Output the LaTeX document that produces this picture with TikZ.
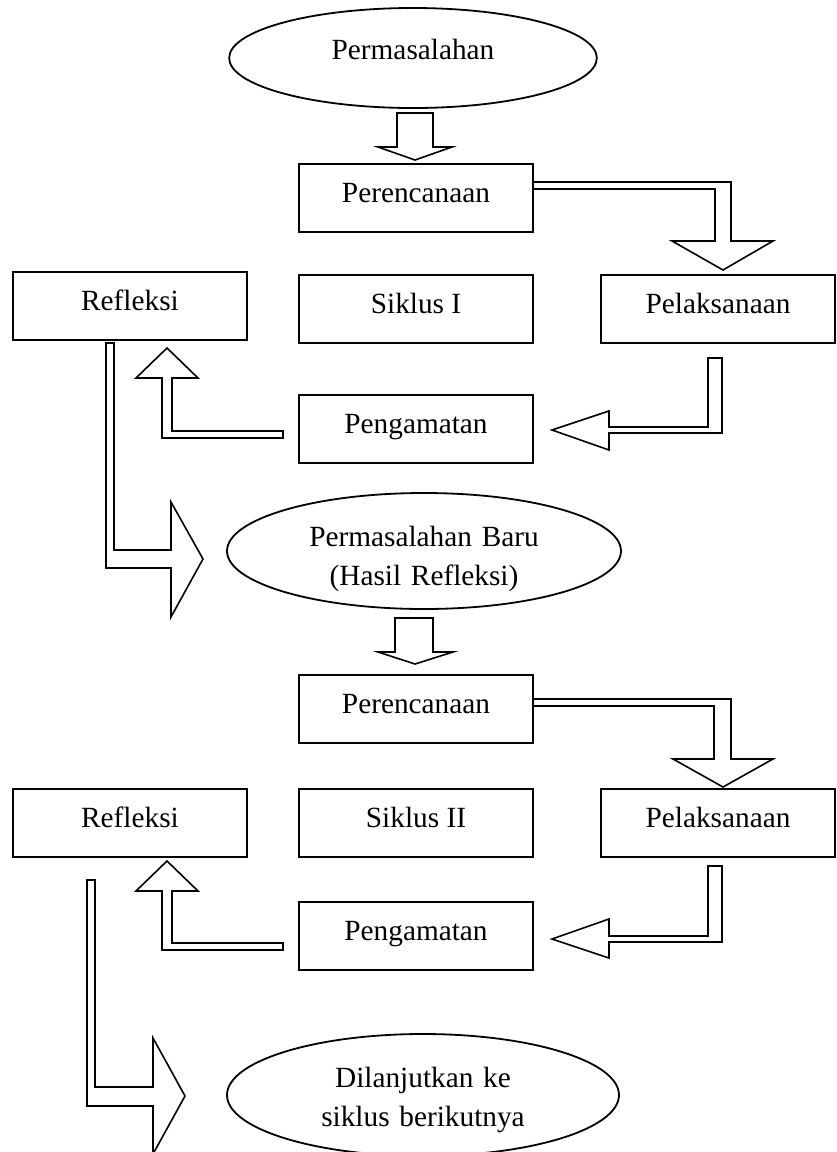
\documentclass[tikz,border=0pt]{standalone}
\usepackage{fontspec}
\setmainfont{Liberation Serif}
\usetikzlibrary{calc, positioning, shapes.geometric}

\begin{document}
\begin{tikzpicture}[
                x = 1pt, y = -1pt, % y runs downwards
                line width = 1.8pt,
                line join = miter,
                font = \fontsize{29.3pt}{39.5pt}\selectfont
                ]
                \tikzstyle{box}=[
                    draw, rectangle,
                    inner sep = 0pt, outer sep = 0pt,
                    minimum width = 234pt,
                    text height = 38.5pt, text depth = 29.5pt
                ]
                \tikzstyle{oval}=[
                    draw, ellipse,
                    inner sep = 0pt, outer sep = 0pt,
                    text width = 260pt, align = center
                ]
                \tikzstyle{blockarrow}=[draw, line width = 1.6pt]
                \useasboundingbox (0,0) rectangle (836,1152);

                % siklus I
                \node[oval, minimum width = 308pt, minimum height = 100pt,
                      text height = 20pt, text depth = 17pt] (mas1) at (413,58) {Permasalahan};
                \node[box] (ren1) [below=56pt of mas1, xshift=3pt] {Perencanaan};
                \node[box] (sik1) [below=43pt of ren1] {Siklus I};
                \node[box] (lak1) [right=68pt of sik1] {Pelaksanaan};
                \node[box] (ref1) [left=52pt of sik1, yshift=3pt] {Refleksi};
                \node[box] (amt1) [below=52pt of sik1] {Pengamatan};

                % siklus II
                \node[oval, minimum width = 394pt, minimum height = 116pt,
                      text height = 25pt, text depth = 35pt]
                      (mas2) [below=30pt of amt1, xshift=8pt] {Permasalahan Baru\\(Hasil Refleksi)};
                \node[box] (ren2) [below=66pt of mas2, xshift=-8pt] {Perencanaan};
                \node[box] (sik2) [below=46pt of ren2] {Siklus II};
                \node[box] (lak2) [right=68pt of sik2] {Pelaksanaan};
                \node[box] (ref2) [left=52pt of sik2] {Refleksi};
                \node[box] (amt2) [below=45pt of sik2] {Pengamatan};
                \node[oval, minimum width = 392pt, minimum height = 122pt,
                      text height = 22pt, text depth = 38pt]
                      (lanjut) [below=64pt of amt2, xshift=7pt] {Dilanjutkan ke\\siklus berikutnya};

                % block arrows, siklus I
                \draw[blockarrow] ($(mas1.south)+(-16,5)$) -- ++(36,0) -- ++(0,34)
                    -- ++(19,0) -- ++(-37,13) -- ++(-37,-13) -- ++(19,0) -- cycle;
                \draw[blockarrow] ($(ren1.east)+(0,-16)$) -- ++(198,0) -- ++(0,59)
                    -- ++(42,0) -- ++(-50,29) -- ++(-51,-29) -- ++(43,0)
                    -- ++(0,-52) -- ++(-182,0) -- cycle;
                \draw[blockarrow] ($(lak1.south)+(-10,15)$) -- ++(14,0) -- ++(0,75)
                    -- ++(-113,0) -- ++(0,17) -- ++(-57,-20) -- ++(57,-19)
                    -- ++(0,16) -- ++(99,0) -- cycle;
                \draw[blockarrow] ($(amt1.west)+(-16,2)$) -- ++(0,7) -- ++(-121,0)
                    -- ++(0,-60) -- ++(-26,0) -- ++(31,-30) -- ++(31,30)
                    -- ++(-26,0) -- ++(0,53) -- cycle;
                \draw[blockarrow] ($(ref1.south)+(-24,3)$) -- ++(8,0) -- ++(0,207)
                    -- ++(57,0) -- ++(0,-48) -- ++(32,57) -- ++(-32,58)
                    -- ++(0,-49) -- ++(-65,0) -- cycle;

                % block arrows, siklus II
                \draw[blockarrow] ($(mas2.south)+(-29,9)$) -- ++(38,0) -- ++(0,34)
                    -- ++(20,0) -- ++(-38,12) -- ++(-37,-12) -- ++(17,0) -- cycle;
                \draw[blockarrow] ($(ren2.east)+(0,-10)$) -- ++(198,0) -- ++(0,60)
                    -- ++(42,0) -- ++(-50,28) -- ++(-50,-28) -- ++(41,0)
                    -- ++(0,-53) -- ++(-181,0) -- cycle;
                \draw[blockarrow] ($(lak2.south)+(-10,9)$) -- ++(14,0) -- ++(0,76)
                    -- ++(-113,0) -- ++(0,16) -- ++(-57,-19) -- ++(57,-20)
                    -- ++(0,17) -- ++(99,0) -- cycle;
                \draw[blockarrow] ($(amt2.west)+(-16,7)$) -- ++(0,7) -- ++(-121,0)
                    -- ++(0,-59) -- ++(-26,0) -- ++(31,-30) -- ++(31,30)
                    -- ++(-26,0) -- ++(0,52) -- cycle;
                \draw[blockarrow] ($(ref2.south)+(-43,23)$) -- ++(8,0) -- ++(0,207)
                    -- ++(58,0) -- ++(0,-49) -- ++(32,58) -- ++(-32,58)
                    -- ++(0,-48) -- ++(-66,0) -- cycle;
\end{tikzpicture}
\end{document}
